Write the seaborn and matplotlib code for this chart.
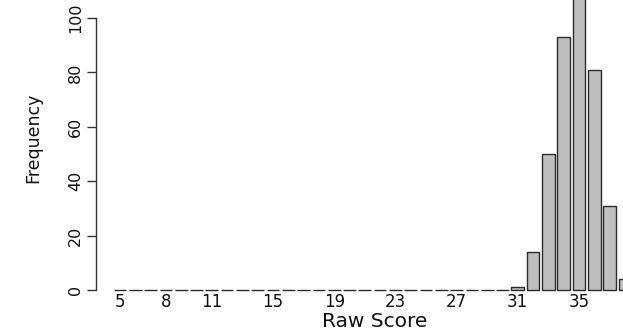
import numpy as np
import pandas as pd
import matplotlib
matplotlib.use('Agg')
import matplotlib.pyplot as plt
import seaborn as sns

# Raw score distribution (scores 5..38)
scores = list(range(5, 39))
freq = [0] * 26 + [1, 14, 50, 93, 115, 81, 31, 4]
tick_scores = [5, 8, 11, 15, 19, 23, 27, 31, 35]

df = pd.DataFrame({'score': [str(s) for s in scores], 'freq': freq})

sns.set_style('white')
plt.rcParams['font.family'] = ['DejaVu Sans']

W, H = 623, 332
fig = plt.figure(figsize=(W / 100, H / 100), dpi=100)
# axes placed in pixel terms to mimic the cropped R barplot
left_px, right_px, bottom_px, top_px = 96, 623, 40, 332
ax = fig.add_axes([left_px / W, bottom_px / H, (right_px - left_px) / W, (top_px - bottom_px) / H])

sns.barplot(data=df, x='score', y='freq', color='#BEBEBE', saturation=1,
            edgecolor='#2b2b2b', linewidth=1.0, width=0.83, ax=ax)

px_per_bar = 15.3
ax.set_xlim(-24 / px_per_bar, -24 / px_per_bar + (right_px - left_px) / px_per_bar)
ax.set_ylim(-2 / 2.72, 290 / 2.72)

ax.set_xticks([s - 5 for s in tick_scores], [str(s) for s in tick_scores])
ax.set_yticks([0, 20, 40, 60, 80, 100])
ax.tick_params(axis='x', length=0, pad=1, labelsize=12, colors='#111111')
ax.tick_params(axis='y', left=True, length=6.5, width=1.0, color='#333333', pad=3,
               labelsize=11.5, labelrotation=90, colors='#111111')
for lab in ax.get_yticklabels():
    lab.set_va('center')

for s in ['top', 'right', 'bottom']:
    ax.spines[s].set_visible(False)
ax.spines['left'].set_bounds(0, 100)
ax.spines['left'].set_color('#333333')
ax.spines['left'].set_linewidth(1.0)

ax.set_xlabel('Raw Score', fontsize=14.5, va='baseline', color='#111111')
ax.set_ylabel('Frequency', fontsize=12.5, va='center', color='#111111')
ax.xaxis.set_label_coords((375 - left_px) / (right_px - left_px), (H - 327 - bottom_px) / (top_px - bottom_px))
ax.yaxis.set_label_coords((33 - left_px) / (right_px - left_px), (H - 138 - bottom_px) / (top_px - bottom_px))
ax.grid(False)

fig.savefig('out.png', dpi=100)
